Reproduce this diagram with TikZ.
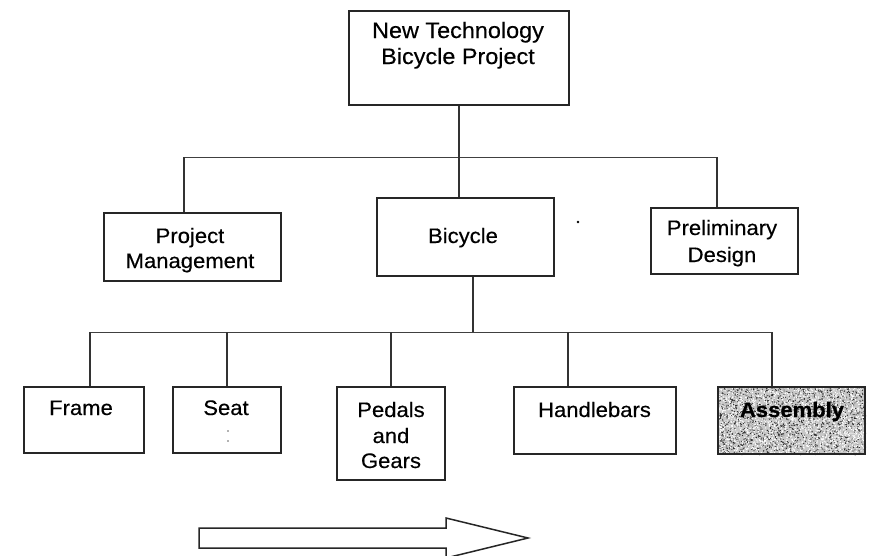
\documentclass[tikz,border=0pt]{standalone}
\usepackage{fontspec}
\setmainfont{Liberation Sans}[FakeStretch=1.05,FakeBold=0.35]
\begin{document}
\begin{tikzpicture}[x=1pt,y=-1pt,
  box/.style={draw=black!85,line width=1.6pt,rectangle,inner sep=0pt},
  lbl/.style={anchor=base,inner sep=0pt,font=\fontsize{21}{25.5}\selectfont},
  toplbl/.style={lbl,font=\fontsize{22.3}{26}\selectfont},
  wire/.style={draw=black!80,line width=1.3pt},
  bus/.style={draw=black!75,line width=0.9pt}]
\useasboundingbox (0,0) rectangle (870,555);
\fill[white] (0,0) rectangle (870,555);

% top level
\node[box,minimum width=220pt,minimum height=94pt] (top) at (459,58) {};
\node[toplbl] (top-l1) at (458,38) {New Technology};
\node[toplbl] (top-l2) at (458,64) {Bicycle Project};

% second level
\node[box,minimum width=177pt,minimum height=68pt] (pm) at (192.5,247) {};
\node[lbl] (pm-l1) at (190,243) {Project};
\node[lbl] (pm-l2) at (190,268) {Management};

\node[box,minimum width=177pt,minimum height=78pt] (bike) at (465.5,237) {};
\node[lbl] (bike-l1) at (463,243) {Bicycle};

\node[box,minimum width=147pt,minimum height=66pt] (pd) at (724.5,241) {};
\node[lbl] (pd-l1) at (722,235) {Preliminary};
\node[lbl] (pd-l2) at (722,262) {Design};

\fill[black] (578,222) circle (1.3pt);

% third level
\node[box,minimum width=120pt,minimum height=66pt] (frame) at (84,420) {};
\node[lbl] (frame-l1) at (81,415) {Frame};

\node[box,minimum width=108pt,minimum height=66pt] (seat) at (227,420) {};
\node[lbl] (seat-l1) at (226,415) {Seat};
\fill[black!60] (228,431) circle (0.9pt) (228,441) circle (0.9pt);

\node[box,minimum width=108pt,minimum height=93pt] (pedals) at (391,433.5) {};
\node[lbl] (pedals-l1) at (391,417) {Pedals};
\node[lbl] (pedals-l2) at (391,443) {and};
\node[lbl] (pedals-l3) at (391,468) {Gears};

\node[box,minimum width=162pt,minimum height=67pt] (handle) at (595,420.5) {};
\node[lbl] (handle-l1) at (594.5,417) {Handlebars};

% shaded work package: speckled screen
\begin{scope}
  \clip (717,386) rectangle (866,455);
  \fill[black!22] (717,386) rectangle (866,455);
  \pgfmathsetseed{4271}
  \foreach \i in {1,...,1900}{
    \fill[black!85] ({717+149*rnd},{386+69*rnd}) circle (0.6pt);
  }
  \foreach \i in {1,...,1900}{
    \fill[white] ({717+149*rnd},{386+69*rnd}) circle (0.7pt);
  }
\end{scope}
\node[box,minimum width=147pt,minimum height=67pt] (asm) at (791.5,420.5) {};
\node[lbl,font=\fontsize{21}{25.5}\selectfont\bfseries] (asm-l1) at (792,417) {Assembly};

% bus coordinates
\coordinate (b1) at (459,157);
\coordinate (b1-pm) at (184,157);
\coordinate (b1-pd) at (717,157);
\coordinate (b2) at (473,332);
\coordinate (b2-frame) at (90,332);
\coordinate (b2-seat) at (227,332);
\coordinate (b2-pedals) at (391,332);
\coordinate (b2-handle) at (568,332);
\coordinate (b2-asm) at (772,332);

% level 1 connectors
\draw[bus] (b1-pm) -- (b1-pd);
\draw[wire] (top.south) -- (b1);
\draw[wire] (b1) -- (b1 |- bike.north);
\draw[wire] (b1-pm) -- (b1-pm |- pm.north);
\draw[wire] (b1-pd) -- (b1-pd |- pd.north);

% level 2 connectors
\draw[bus] (b2-frame) -- (b2-asm);
\draw[wire] (b2 |- bike.south) -- (b2);
\draw[wire] (b2-frame) -- (b2-frame |- frame.north);
\draw[wire] (b2-seat) -- (b2-seat |- seat.north);
\draw[wire] (b2-pedals) -- (b2-pedals |- pedals.north);
\draw[wire] (b2-handle) -- (b2-handle |- handle.north);
\draw[wire] (b2-asm) -- (b2-asm |- asm.north);

% direction arrow
\draw[draw=black!85,line width=1.5pt,fill=white,line join=miter]
  (199,528) -- (446,528) -- (446,518) -- (528,538) -- (446,558)
  -- (446,548) -- (199,548) -- cycle;
\end{tikzpicture}
\end{document}
